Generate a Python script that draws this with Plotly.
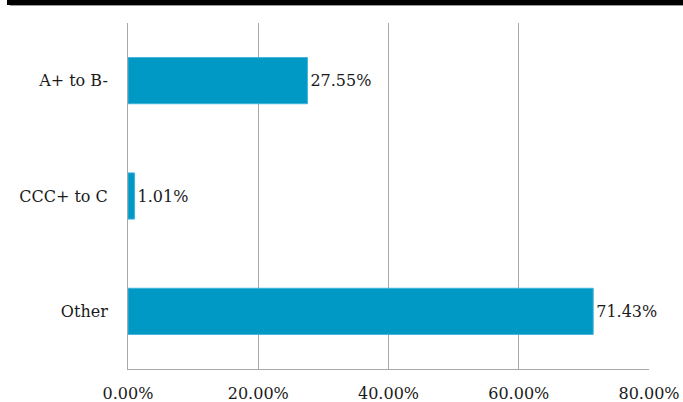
import plotly.graph_objects as go

categories = ["A+ to B-", "CCC+ to C", "Other"]
values = [27.55, 1.01, 71.43]
x_ticks = [0, 20, 40, 60, 80]
x_tick_labels = ["0.00%", "20.00%", "40.00%", "60.00%", "80.00%"]

FONT = "DejaVu Serif"
W, H = 683, 402
ml, mr, mt, mb = 128, 34, 23, 32.5
pw = W - ml - mr
ph = H - mt - mb

def px_x(x):
    return (x - ml) / pw

def px_y(y):
    return (H - mb - y) / ph

fig = go.Figure()
fig.add_trace(go.Bar(
    y=categories,
    x=values,
    orientation="h",
    marker=dict(color="#0098C4", line=dict(color="#40B2D8", width=1)),
    text=[f"{v:.2f}%" for v in values],
    textposition="outside",
    textfont=dict(family=FONT, size=16, color="#1a1a1a"),
    cliponaxis=False,
    width=0.4,
))

fig.update_layout(
    width=W, height=H,
    margin=dict(l=ml, r=mr, t=mt, b=mb, autoexpand=False),
    plot_bgcolor="white", paper_bgcolor="white",
    showlegend=False,
    font=dict(family=FONT, size=16, color="#1a1a1a"),
    xaxis=dict(
        range=[0, 80],
        tickvals=x_ticks,
        ticktext=x_tick_labels,
        showgrid=True, gridcolor="#A8A8A8", gridwidth=1,
        zeroline=False,
        showline=True, linecolor="#A8A8A8", linewidth=1,
        ticks="", ticklabelstandoff=10,
        tickfont=dict(family=FONT, size=16, color="#1a1a1a"),
        automargin=False,
        fixedrange=True,
    ),
    yaxis=dict(
        autorange="reversed",
        showgrid=False, zeroline=False,
        showline=True, linecolor="#A8A8A8", linewidth=1,
        ticks="", ticklabelstandoff=16,
        tickfont=dict(family=FONT, size=16, color="#1a1a1a"),
        automargin=False,
    ),
    shapes=[
        dict(type="rect", xref="paper", yref="paper",
             x0=px_x(7), x1=px_x(W + 5), y0=px_y(5), y1=px_y(-5),
             fillcolor="black", line=dict(width=0), layer="above"),
        dict(type="line", xref="paper", yref="paper",
             x0=px_x(10), x1=px_x(W + 5), y0=px_y(5.5), y1=px_y(5.5),
             line=dict(color="#9a9a9a", width=1)),
    ],
)

fig.write_html(
    "out.html",
    config={"displayModeBar": False},
    post_script="document.body.style.margin='0';document.body.style.overflow='hidden';",
)
